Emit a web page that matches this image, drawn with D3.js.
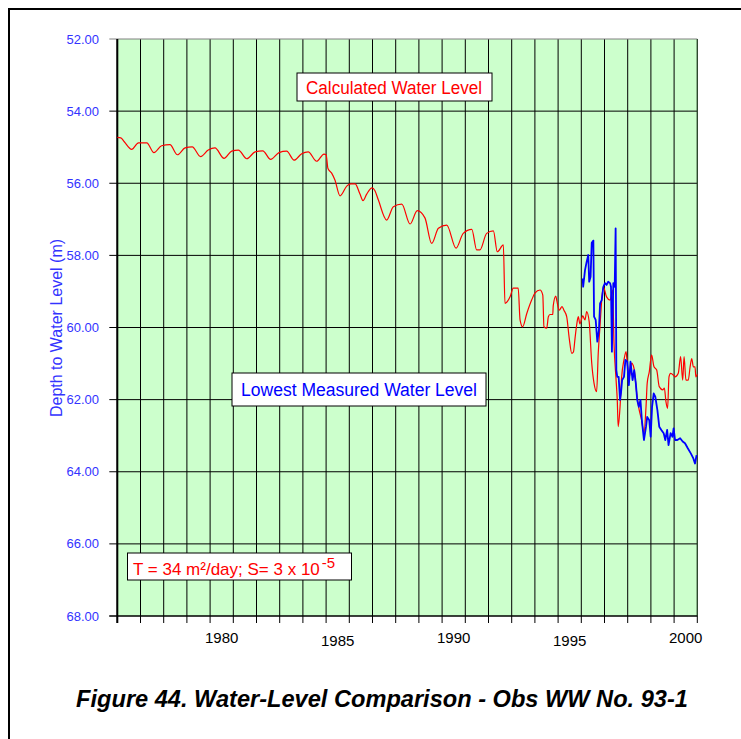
<!DOCTYPE html>
<html>
<head>
<meta charset="utf-8">
<script src="https://cdn.jsdelivr.net/npm/d3@7"></script>
<style>
  body { margin: 0; background: #fff; }
  svg { display: block; }
</style>
</head>
<body>
<svg id="chart"></svg>
<script>
// calculated water level (red), [decimal year, depth m]
const calcYears = [1976.00, 1976.15, 1976.30, 1976.62, 1976.91, 1977.27, 1977.58, 1977.91, 1978.27, 1978.59,
  1978.92, 1979.23, 1979.59, 1979.92, 1980.21, 1980.60, 1980.93, 1981.22, 1981.58, 1981.94,
  1982.27, 1982.61, 1982.97, 1983.30, 1983.62, 1983.95, 1984.23, 1984.59, 1984.91, 1985.00,
  1985.08, 1985.24, 1985.38, 1985.60, 1985.89, 1986.06, 1986.25, 1986.46, 1986.59, 1986.75,
  1986.98, 1987.10, 1987.25, 1987.61, 1987.90, 1988.26, 1988.62, 1988.93, 1989.26, 1989.55,
  1989.84, 1990.20, 1990.60, 1990.91, 1991.28, 1991.49, 1991.63, 1991.92, 1992.21, 1992.38,
  1992.64, 1992.71, 1992.93, 1993.07, 1993.28, 1993.36, 1993.47, 1993.65, 1993.86, 1994.00,
  1994.22, 1994.34, 1994.39, 1994.51, 1994.58, 1994.65, 1994.77, 1994.79, 1994.90, 1994.94,
  1995.05, 1995.17, 1995.25, 1995.37, 1995.48, 1995.59, 1995.66, 1995.73, 1995.80, 1995.87,
  1995.94, 1996.06, 1996.16, 1996.23, 1996.34, 1996.45, 1996.55, 1996.66, 1996.73, 1996.81,
  1996.88, 1996.95, 1997.09, 1997.24, 1997.35, 1997.41, 1997.50, 1997.55, 1997.59, 1997.67,
  1997.74, 1997.84, 1997.93, 1997.98, 1998.07, 1998.17, 1998.27, 1998.39, 1998.47, 1998.60,
  1998.70, 1998.79, 1998.84, 1998.93, 1999.03, 1999.13, 1999.25, 1999.36, 1999.51, 1999.58,
  1999.65, 1999.72, 1999.78, 1999.85, 1999.97, 2000.04, 2000.18, 2000.28, 2000.37, 2000.43,
  2000.51, 2000.61, 2000.69, 2000.76, 2000.83, 2000.90, 2000.94, 2001.00];
const calcDepth = [54.73, 54.74, 54.85, 55.06, 54.88, 54.88, 55.15, 54.96, 54.93, 55.21,
  55.02, 54.99, 55.26, 55.08, 55.02, 55.31, 55.11, 55.08, 55.32, 55.13,
  55.10, 55.34, 55.15, 55.11, 55.36, 55.18, 55.13, 55.39, 55.19, 55.21,
  55.59, 55.72, 55.91, 56.35, 56.08, 56.02, 56.02, 56.30, 56.48, 56.30,
  56.13, 56.20, 56.46, 57.02, 56.65, 56.58, 57.13, 56.76, 56.96, 57.67,
  57.25, 57.16, 57.80, 57.39, 57.28, 57.85, 57.85, 57.39, 57.32, 57.90,
  57.71, 59.33, 59.15, 58.91, 58.91, 59.79, 59.98, 59.61, 59.24, 59.05,
  58.96, 59.10, 59.98, 60.02, 59.70, 59.64, 59.64, 59.40, 59.13, 59.24,
  59.52, 59.42, 59.52, 59.70, 60.30, 60.72, 60.68, 60.30, 59.93, 59.70,
  59.90, 59.68, 59.79, 59.56, 59.84, 60.99, 61.55, 61.78, 60.72, 59.93,
  59.24, 58.87, 59.15, 59.24, 58.96, 60.44, 61.46, 62.01, 62.75, 62.20,
  61.37, 60.90, 60.67, 60.99, 61.37, 60.99, 61.13, 61.83, 62.20, 62.57,
  62.93, 62.20, 61.55, 61.23, 60.76, 61.08, 61.18, 61.64, 61.73, 61.68,
  62.06, 62.24, 61.37, 61.27, 61.32, 61.37, 61.27, 60.81, 61.46, 60.81,
  61.46, 61.46, 61.09, 60.86, 61.09, 61.09, 61.37, 61.30];

// lowest measured water level (blue)
const measYears = [1996.06, 1996.08, 1996.16, 1996.23, 1996.30, 1996.34, 1996.40, 1996.45, 1996.52, 1996.55,
  1996.62, 1996.69, 1996.76, 1996.81, 1996.88, 1996.95, 1997.02, 1997.09, 1997.16, 1997.24,
  1997.28, 1997.32, 1997.38, 1997.44, 1997.48, 1997.51, 1997.55, 1997.61, 1997.67, 1997.71,
  1997.76, 1997.84, 1997.90, 1997.98, 1998.05, 1998.12, 1998.21, 1998.28, 1998.35, 1998.41,
  1998.48, 1998.55, 1998.61, 1998.70, 1998.79, 1998.84, 1998.93, 1998.99, 1999.05, 1999.12,
  1999.19, 1999.28, 1999.36, 1999.45, 1999.55, 1999.62, 1999.70, 1999.76, 1999.85, 1999.93,
  1999.98, 2000.04, 2000.14, 2000.26, 2000.37, 2000.47, 2000.59, 2000.72, 2000.83, 2000.90,
  2000.97];
const measDepth = [58.64, 58.87, 58.41, 58.18, 57.99, 58.73, 58.59, 57.65, 57.59, 59.70,
  59.79, 60.39, 60.07, 59.33, 59.24, 58.87, 58.77, 58.82, 58.73, 58.77,
  58.87, 60.67, 58.77, 58.87, 57.25, 61.18, 61.37, 61.37, 62.01, 61.83,
  61.46, 61.37, 60.90, 60.95, 61.60, 60.95, 61.46, 61.18, 61.55, 62.01,
  62.20, 62.01, 62.57, 63.12, 62.75, 62.48, 62.57, 63.03, 62.20, 61.83,
  61.92, 62.29, 62.75, 62.84, 62.93, 63.12, 62.84, 63.26, 62.93, 63.03,
  62.80, 63.12, 63.12, 63.07, 63.16, 63.21, 63.35, 63.49, 63.63, 63.77,
  63.54];

const yTicks = [52, 54, 56, 58, 60, 62, 64, 66, 68];
const xLabels = [1980, 1985, 1990, 1995, 2000];
const gridYears = d3.range(1976, 2002);

const width = 741, height = 739;
const plot = { left: 117.3, right: 697.3, top: 39, bottom: 616 };

const svg = d3.select('#chart').attr('width', width).attr('height', height);
const font = '"Liberation Sans", Arial, Helvetica, sans-serif';
const blue = '#3333ff';

const x = d3.scaleLinear().domain([1976, 2001]).range([plot.left, plot.right]);
const y = d3.scaleLinear().domain([52, 68]).range([plot.top, plot.bottom]);

// outer frame (only top and left visible)
svg.append('path')
  .attr('d', `M9,${height + 5} L9,9 L${width + 5},9`)
  .attr('fill', 'none').attr('stroke', '#000').attr('stroke-width', 2);

// plot background
svg.append('rect')
  .attr('x', plot.left).attr('y', plot.top)
  .attr('width', plot.right - plot.left).attr('height', plot.bottom - plot.top)
  .attr('fill', '#ccffcc');

// vertical grid
svg.append('g').selectAll('line').data(gridYears).enter().append('line')
  .attr('x1', d => x(d)).attr('x2', d => x(d))
  .attr('y1', plot.top).attr('y2', plot.bottom + 7)
  .attr('stroke', '#000').attr('stroke-width', 1);

// horizontal grid + left ticks
svg.append('g').selectAll('line').data(yTicks).enter().append('line')
  .attr('x1', plot.left - 8).attr('x2', plot.right)
  .attr('y1', d => y(d)).attr('y2', d => y(d))
  .attr('stroke', d => d === 52 ? '#808080' : '#000').attr('stroke-width', 1);

// right border
svg.append('line')
  .attr('x1', plot.right).attr('x2', plot.right).attr('y1', plot.top).attr('y2', plot.bottom)
  .attr('stroke', '#2f4f2f').attr('stroke-width', 1);

// axis lines
svg.append('line')
  .attr('x1', plot.left).attr('x2', plot.left).attr('y1', plot.top).attr('y2', plot.bottom + 7)
  .attr('stroke', '#000').attr('stroke-width', 2);
svg.append('line')
  .attr('x1', plot.left - 8).attr('x2', plot.right).attr('y1', plot.bottom).attr('y2', plot.bottom)
  .attr('stroke', '#000').attr('stroke-width', 1);

// y labels
svg.append('g').selectAll('text').data(yTicks).enter().append('text')
  .attr('x', 99).attr('y', d => y(d) + 4.5)
  .attr('text-anchor', 'end')
  .attr('font-family', font).attr('font-size', 13).attr('fill', blue)
  .text(d3.format('.2f'));

// x labels, centred in the year interval (1985 and 1995 sit a bit lower)
svg.append('g').selectAll('text').data(xLabels).enter().append('text')
  .attr('x', d => x(d + 0.5))
  .attr('y', d => d % 10 === 5 ? 646 : 643)
  .attr('text-anchor', 'middle')
  .attr('font-family', font).attr('font-size', 15).attr('fill', '#000')
  .text(d => d);

// axis title
svg.append('text')
  .attr('transform', 'translate(62,328) rotate(-90)')
  .attr('text-anchor', 'middle')
  .attr('font-family', font).attr('font-size', 16).attr('fill', blue)
  .text('Depth to Water Level (m)');

// series
const calc = calcYears.map((t, i) => [t, calcDepth[i]]);
const meas = measYears.map((t, i) => [t, measDepth[i]]);
const smoothLine = d3.line().x(d => x(d[0])).y(d => y(d[1])).curve(d3.curveMonotoneX);
const rawLine = d3.line().x(d => x(d[0])).y(d => y(d[1]));

svg.append('path').datum(calc)
  .attr('d', smoothLine).attr('fill', 'none')
  .attr('stroke', '#ff0000').attr('stroke-width', 1.2).attr('stroke-linejoin', 'round');

svg.append('path').datum(meas)
  .attr('d', rawLine).attr('fill', 'none')
  .attr('stroke', '#0000ff').attr('stroke-width', 1.8).attr('stroke-linejoin', 'round');

// label boxes
function labelBox(bx, by, bw, bh) {
  svg.append('rect')
    .attr('x', bx).attr('y', by).attr('width', bw).attr('height', bh)
    .attr('fill', '#fff').attr('stroke', '#000').attr('stroke-width', 1);
}

labelBox(297, 73, 195, 28);
svg.append('text')
  .attr('x', 394).attr('y', 93.5).attr('text-anchor', 'middle')
  .attr('font-family', font).attr('font-size', 18).attr('fill', '#ff0000')
  .attr('textLength', 176).attr('lengthAdjust', 'spacingAndGlyphs')
  .text('Calculated Water Level');

labelBox(232, 373, 254, 33);
svg.append('text')
  .attr('x', 359).attr('y', 396).attr('text-anchor', 'middle')
  .attr('font-family', font).attr('font-size', 18).attr('fill', '#0000ff')
  .attr('textLength', 236).attr('lengthAdjust', 'spacingAndGlyphs')
  .text('Lowest Measured Water Level');

labelBox(127.5, 553, 224, 27);
const tText = svg.append('text')
  .attr('x', 133).attr('y', 575)
  .attr('font-family', font).attr('font-size', 17).attr('fill', '#ff0000');
tText.append('tspan').text('T = 34 m\u00b2/day; S= 3 x 10');
tText.append('tspan').attr('dx', 2).attr('dy', -7).attr('font-size', 15).text('-5');

// caption
svg.append('text')
  .attr('x', 382).attr('y', 707).attr('text-anchor', 'middle')
  .attr('font-family', font).attr('font-size', 23.6)
  .attr('font-weight', 'bold').attr('font-style', 'italic').attr('fill', '#000')
  .text('Figure 44. Water-Level Comparison - Obs WW No. 93-1');
</script>
</body>
</html>
